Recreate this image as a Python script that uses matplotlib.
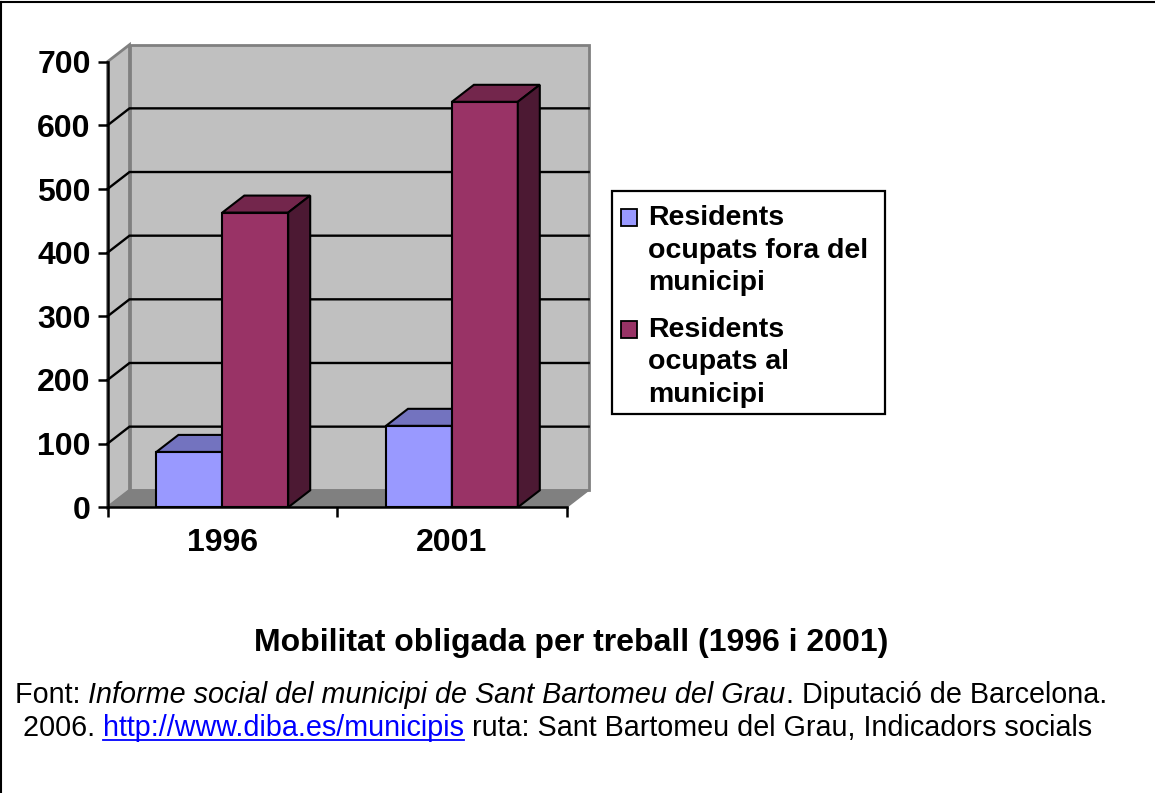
import matplotlib.pyplot as plt
from matplotlib.patches import Polygon, Rectangle
from matplotlib.lines import Line2D

# Dades
anys = ['1996', '2001']
series = ['Residents\nocupats fora del\nmunicipi', 'Residents\nocupats al\nmunicipi']
fora_municipi = [87, 128]
al_municipi = [463, 637]
valors = [fora_municipi, al_municipi]

titol = 'Mobilitat obligada per treball (1996 i 2001)'

# Colors (cara frontal, superior i lateral)
c_front = ['#9999FF', '#993366']
c_top = ['#7373BF', '#73264C']
c_side = ['#4D4D80', '#4C1933']

W, H = 1155, 793
plt.rcParams['font.family'] = ['Liberation Sans', 'DejaVu Sans']
fig = plt.figure(figsize=(W / 100, H / 100), dpi=100)


def fx(px):
    return px / W


def fy(py):
    return 1 - py / H


ax = fig.add_axes([fx(107.5), fy(507.3), 459.2 / W, 445.6 / H])
ax.set_xlim(0, 2)
ax.set_ylim(0, 700)
ax.patch.set_visible(False)

# perspectiva en unitats de dades
dx = 22 / 229.6
dy = 17 / 445.6 * 700

# parets i terra
ax.add_patch(Polygon([(dx, dy), (2 + dx, dy), (2 + dx, 700 + dy), (dx, 700 + dy)],
                     fc='#C0C0C0', ec='#808080', lw=2, clip_on=False, zorder=0))
ax.add_patch(Polygon([(0, 0), (dx, dy), (dx, 700 + dy), (0, 700)],
                     fc='#C0C0C0', ec='#808080', lw=2, clip_on=False, zorder=0))
ax.add_patch(Polygon([(0, 0), (2, 0), (2 + dx, dy), (dx, dy)],
                     fc='#808080', ec='#808080', lw=1, clip_on=False, zorder=0.5))

for v in range(100, 700, 100):
    ax.plot([0, dx, 2 + dx], [v, v + dy, v + dy], color='black', lw=1.7,
            zorder=1, clip_on=False, solid_joinstyle='miter')

# barres 3D
amplada = 0.287
for i, vals in enumerate(valors):
    for j, v in enumerate(vals):
        x0 = j + 0.5 + (i - 1) * amplada
        ax.bar(x0, v, amplada, align='edge', color=c_front[i], edgecolor='black',
               lw=1.5, zorder=2 + i)
        ax.add_patch(Polygon([(x0, v), (x0 + amplada, v), (x0 + amplada + dx, v + dy), (x0 + dx, v + dy)],
                             fc=c_top[i], ec='black', lw=1.5, zorder=2 + i, clip_on=False))
        ax.add_patch(Polygon([(x0 + amplada, 0), (x0 + amplada + dx, dy), (x0 + amplada + dx, v + dy),
                              (x0 + amplada, v)],
                             fc=c_side[i], ec='black', lw=1.5, zorder=2 + i, clip_on=False))

for s in ['top', 'right']:
    ax.spines[s].set_visible(False)
for s in ['left', 'bottom']:
    ax.spines[s].set_linewidth(1.8)
    ax.spines[s].set_zorder(6)

ax.set_yticks(range(0, 701, 100))
ax.set_yticklabels([str(v) for v in range(0, 701, 100)], fontsize=23, fontweight='bold')
ax.tick_params(axis='y', direction='out', length=7, width=1.8, pad=5)

ax.set_xticks([0, 1, 2])
ax.set_xticklabels([])
ax.set_xticks([0.5, 1.5], minor=True)
ax.set_xticklabels(anys, minor=True, fontsize=23, fontweight='bold')
ax.tick_params(axis='x', which='major', direction='out', length=7, width=1.8)
ax.tick_params(axis='x', which='minor', length=0, pad=15)

# llegenda
fig.add_artist(Rectangle((fx(612), fy(414)), 273 / W, 223 / H, transform=fig.transFigure,
                         fill=False, ec='black', lw=1.6))
bases = [225, 337]
for i, nom in enumerate(series):
    fig.add_artist(Rectangle((fx(621), fy(bases[i] + 0.5)), 16 / W, 16.5 / H,
                             transform=fig.transFigure, fc=c_front[i], ec='black', lw=1.3))
    for k, linia in enumerate(nom.split('\n')):
        fig.text(fx(648), fy(bases[i] + k * 32.5), linia, va='baseline',
                 fontsize=20.5, fontweight='bold')

# títol i font
fig.text(fx(571), fy(651), titol, ha='center', va='baseline', fontsize=23, fontweight='bold')

fs = 20.7
t1 = fig.text(fx(15), fy(703), 'Font: ', va='baseline', fontsize=fs)
t2 = fig.text(0, 0, 'Informe social del municipi de Sant Bartomeu del Grau', fontsize=fs,
              style='italic', va='baseline')
t3 = fig.text(0, 0, '. Diputació de Barcelona.', fontsize=fs, va='baseline')
l1 = fig.text(fx(23), fy(736), '2006. ', va='baseline', fontsize=fs)
l2 = fig.text(0, 0, 'http://www.diba.es/municipis', fontsize=fs, color='#0000FF', va='baseline')
l3 = fig.text(0, 0, ' ruta: Sant Bartomeu del Grau, Indicadors socials', fontsize=fs, va='baseline')

fig.canvas.draw()
r = fig.canvas.get_renderer()
for prev, cur in [(t1, t2), (t2, t3), (l1, l2), (l2, l3)]:
    bb = prev.get_window_extent(r)
    x_prev, y_prev = prev.get_position()
    cur.set_position((bb.x1 / W, y_prev))
fig.canvas.draw()
bb = l2.get_window_extent(r)
y_sub = fy(740)
fig.add_artist(Line2D([bb.x0 / W, bb.x1 / W], [y_sub, y_sub], transform=fig.transFigure,
                      color='#0000FF', lw=1.3))

# marc
fig.add_artist(Line2D([fx(1), fx(1)], [0, fy(2)], transform=fig.transFigure, color='black', lw=1.5))
fig.add_artist(Line2D([fx(1), 1], [fy(2), fy(2)], transform=fig.transFigure, color='black', lw=1.5))

fig.savefig('out.png', dpi=100)
